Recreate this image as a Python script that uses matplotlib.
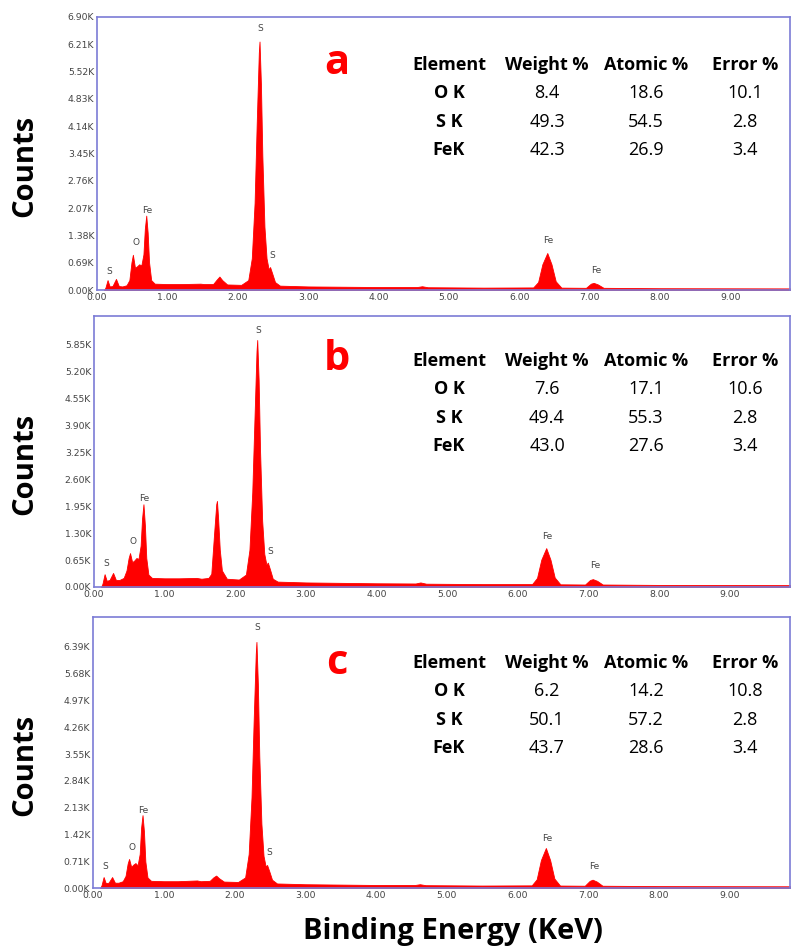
import matplotlib.pyplot as plt
from matplotlib.ticker import FuncFormatter

# spectrum outlines (energy in keV, counts)
energy_a = [0.10, 0.12, 0.15, 0.18, 0.22, 0.27, 0.31, 0.36, 0.42, 0.46, 0.49, 0.51, 0.54, 0.57,
            0.60, 0.63, 0.66, 0.68, 0.70, 0.72, 0.74, 0.77, 0.82, 1.00, 1.20, 1.47, 1.52, 1.65,
            1.70, 1.74, 1.78, 1.85, 2.05, 2.15, 2.20, 2.24, 2.27, 2.30, 2.31, 2.33, 2.35, 2.38,
            2.41, 2.44, 2.46, 2.49, 2.53, 2.60, 3.00, 4.00, 4.55, 4.62, 4.70, 5.50, 6.20, 6.27,
            6.33, 6.40, 6.46, 6.52, 6.60, 6.95, 7.02, 7.06, 7.12, 7.20, 8.00, 9.85]
counts_a = [0, 60, 250, 90, 100, 280, 100, 90, 120, 250, 700, 890, 560, 600,
            650, 620, 900, 1550, 1880, 1450, 700, 250, 160, 150, 150, 160, 150, 150,
            260, 340, 250, 140, 130, 250, 800, 2200, 4200, 6000, 6280, 5200, 3400, 1600,
            800, 520, 580, 420, 200, 110, 90, 75, 75, 95, 70, 60, 65, 200,
            650, 935, 650, 220, 60, 55, 160, 180, 140, 55, 45, 40]

energy_b = [0.10, 0.12, 0.15, 0.18, 0.22, 0.27, 0.31, 0.36, 0.42, 0.46, 0.49, 0.51, 0.54, 0.57,
            0.60, 0.63, 0.66, 0.68, 0.70, 0.72, 0.74, 0.77, 0.82, 1.00, 1.20, 1.45, 1.52, 1.62,
            1.66, 1.70, 1.73, 1.74, 1.755, 1.78, 1.81, 1.88, 2.05, 2.15, 2.20, 2.24, 2.27, 2.30,
            2.31, 2.33, 2.35, 2.38, 2.41, 2.44, 2.46, 2.49, 2.53, 2.60, 3.00, 4.00, 4.55, 4.62,
            4.70, 5.50, 6.20, 6.27, 6.33, 6.40, 6.46, 6.52, 6.60, 6.95, 7.02, 7.06, 7.12, 7.20,
            8.00, 9.85]
counts_b = [0, 80, 310, 150, 170, 340, 170, 170, 220, 400, 700, 820, 600, 640,
            700, 680, 1000, 1650, 2000, 1500, 700, 300, 220, 210, 210, 220, 200, 220,
            320, 1300, 2000, 2080, 1700, 900, 400, 200, 180, 300, 900, 2300, 4000, 5700,
            5970, 5000, 3300, 1600, 800, 540, 590, 430, 200, 130, 110, 90, 85, 110,
            80, 70, 70, 220, 660, 940, 660, 230, 65, 60, 170, 190, 150, 60,
            50, 45]

energy_c = [0.10, 0.12, 0.15, 0.18, 0.22, 0.27, 0.31, 0.36, 0.42, 0.46, 0.49, 0.51, 0.54, 0.57,
            0.60, 0.63, 0.66, 0.68, 0.70, 0.72, 0.74, 0.77, 0.82, 1.00, 1.20, 1.47, 1.52, 1.65,
            1.70, 1.74, 1.78, 1.85, 2.05, 2.15, 2.20, 2.24, 2.27, 2.30, 2.31, 2.33, 2.35, 2.38,
            2.41, 2.44, 2.46, 2.49, 2.53, 2.60, 3.00, 4.00, 4.55, 4.62, 4.70, 5.50, 6.20, 6.27,
            6.33, 6.40, 6.46, 6.52, 6.60, 6.95, 7.02, 7.06, 7.12, 7.20, 8.00, 9.85]
counts_c = [0, 70, 290, 130, 140, 290, 140, 140, 180, 320, 650, 770, 560, 620,
            660, 600, 900, 1600, 1930, 1500, 700, 280, 190, 180, 180, 200, 180, 190,
            280, 330, 260, 170, 160, 280, 900, 2400, 4400, 6200, 6520, 5400, 3500, 1700,
            850, 570, 610, 450, 220, 120, 100, 80, 80, 100, 75, 65, 70, 230,
            740, 1060, 740, 250, 65, 60, 190, 220, 170, 60, 50, 45]

# peak labels
peak_names = ["S", "O", "Fe", "S", "S", "Fe", "Fe"]
peak_e = [0.17, 0.55, 0.71, 2.32, 2.49, 6.42, 7.09]
peak_y_a = [480, 1190, 2000, 6600, 860, 1260, 500]
peak_y_b = [560, 1110, 2150, 6190, 870, 1210, 520]
peak_y_c = [580, 1060, 2060, 6890, 930, 1300, 560]

# quantification tables
elements = ["O K", "S K", "FeK"]
table_head = ["Element", "Weight %", "Atomic %", "Error %"]
weight_a = ["8.4", "49.3", "42.3"]
atomic_a = ["18.6", "54.5", "26.9"]
error_a = ["10.1", "2.8", "3.4"]
weight_b = ["7.6", "49.4", "43.0"]
atomic_b = ["17.1", "55.3", "27.6"]
error_b = ["10.6", "2.8", "3.4"]
weight_c = ["6.2", "50.1", "43.7"]
atomic_c = ["14.2", "57.2", "28.6"]
error_c = ["10.8", "2.8", "3.4"]

W, H = 792, 952
fig = plt.figure(figsize=(W / 100, H / 100), dpi=100)
font = "Open Sans"


def fx(x):
    return x / W


def fy(y):
    return 1 - y / H


panels = [
    dict(box=(97, 17, 790, 290), e=energy_a, c=counts_a, top=6900, step=690, ntick=10,
         py=peak_y_a, letter="a", ty=63, w=weight_a, at=atomic_a, er=error_a, hy=65),
    dict(box=(94, 316, 790, 587), e=energy_b, c=counts_b, top=6550, step=650, ntick=9,
         py=peak_y_b, letter="b", ty=359, w=weight_b, at=atomic_b, er=error_b, hy=361),
    dict(box=(93, 617, 790, 888), e=energy_c, c=counts_c, top=7180, step=710, ntick=9,
         py=peak_y_c, letter="c", ty=664, w=weight_c, at=atomic_c, er=error_c, hy=663),
]

col_x = [449, 547, 646, 745]

for p in panels:
    l, t, r, b = p["box"]
    ax = fig.add_axes([fx(l), fy(b), fx(r) - fx(l), fy(t) - fy(b)])
    ax.fill_between(p["e"], p["c"], 0, color="#ff0000", lw=0.6, edgecolor="#ff0000")
    ax.set_xlim(0, 9.85)
    ax.set_ylim(0, p["top"])
    ax.set_xticks([i * 1.0 for i in range(10)])
    ax.set_yticks([i * p["step"] for i in range(p["ntick"] + 1)])
    ax.xaxis.set_major_formatter(FuncFormatter(lambda v, pos: f"{v:.2f}"))
    ax.yaxis.set_major_formatter(FuncFormatter(lambda v, pos: f"{v / 1000:.2f}K"))
    ax.tick_params(length=0, pad=2, labelsize=6.7, labelcolor="#444444")
    for s in ax.spines.values():
        s.set_color("#7c7cd6")
        s.set_linewidth(1.2)

    for name, e, y in zip(peak_names, peak_e, p["py"]):
        ax.text(e, y, name, ha="center", va="center", fontsize=6.5, color="#444444")

    fig.text(fx(337), fy(p["ty"]), p["letter"], ha="center", va="center", color="#ff0000",
             fontsize=30, fontweight="bold", family=font)

    rows = [table_head] + [[el, w, a, er] for el, w, a, er in zip(elements, p["w"], p["at"], p["er"])]
    for i, row in enumerate(rows):
        y = p["hy"] + i * 28.3
        for j, txt in enumerate(row):
            bold = i == 0 or j == 0
            fig.text(fx(col_x[j]), fy(y), txt, ha="center", va="center", fontsize=13,
                     fontweight="bold" if bold else "normal", family=font, color="black")

    fig.text(fx(25), fy((t + b) / 2 + 12), "Counts", rotation=90, ha="center", va="center",
             fontsize=21, fontweight="bold", family=font)

fig.text(fx(453), fy(931), "Binding Energy (KeV)", ha="center", va="center",
         fontsize=21, fontweight="bold", family=font)

fig.savefig("out.png", dpi=100)
